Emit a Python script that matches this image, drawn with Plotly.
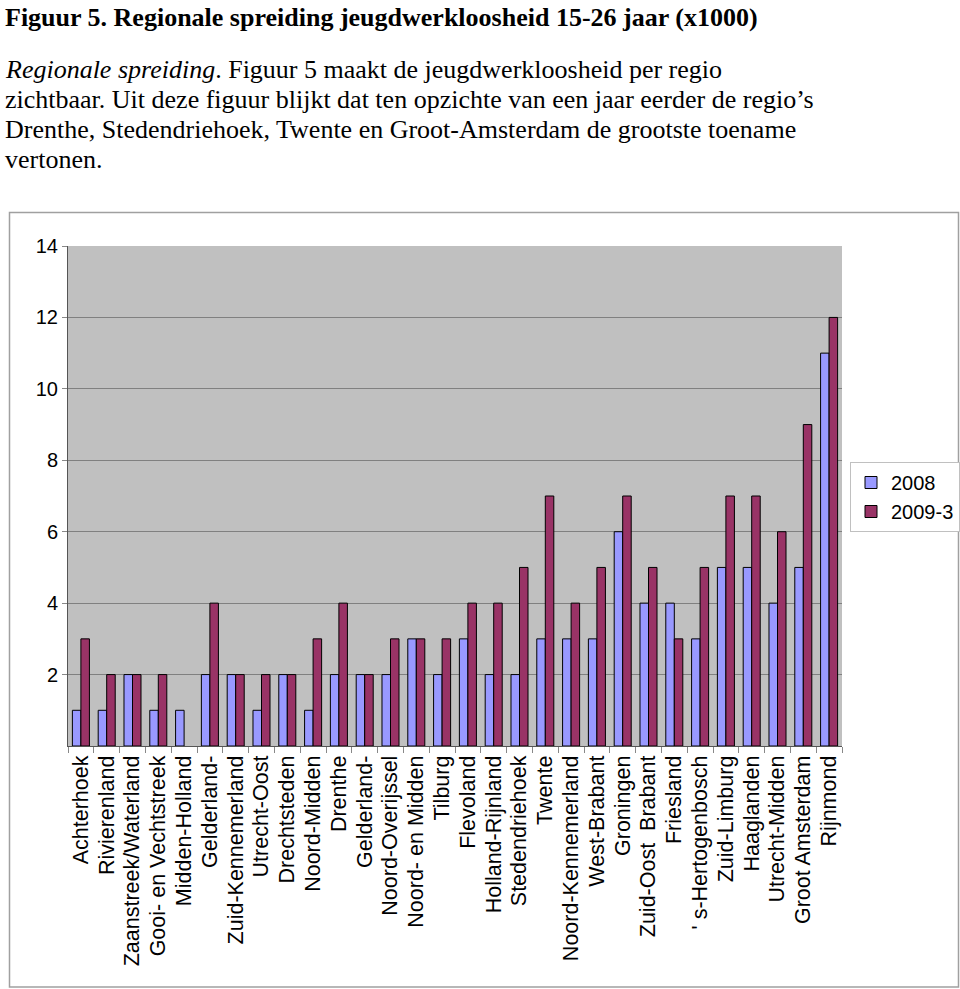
import plotly.graph_objects as go

regions = ["Achterhoek", "Rivierenland", "Zaanstreek/Waterland", "Gooi- en Vechtstreek",
           "Midden-Holland", "Gelderland-", "Zuid-Kennemerland", "Utrecht-Oost",
           "Drechtsteden", "Noord-Midden", "Drenthe", "Gelderland-", "Noord-Overijssel",
           "Noord- en Midden", "Tilburg", "Flevoland", "Holland-Rijnland", "Stedendriehoek",
           "Twente", "Noord-Kennemerland", "West-Brabant", "Groningen", "Zuid-Oost  Brabant",
           "Friesland", "' s-Hertogenbosch", "Zuid-Limburg", "Haaglanden", "Utrecht-Midden",
           "Groot Amsterdam", "Rijnmond"]
v2008 = [1, 1, 2, 1, 1, 2, 2, 1, 2, 1, 2, 2, 2, 3, 2, 3, 2, 2, 3, 3, 3, 6, 4, 4, 3, 5, 5, 4, 5, 11]
v2009 = [3, 2, 2, 2, None, 4, 2, 2, 2, 3, 4, 2, 3, 3, 3, 4, 4, 5, 7, 4, 5, 7, 5, 3, 5, 7, 7, 6, 9, 12]
series_names = ["2008", "2009-3"]
y_ticks = [2, 4, 6, 8, 10, 12, 14]

W, H = 960, 989
L, R, T, B = 68, 842, 246, 746
PW, PH = R - L, B - T

def px(x):
    return (x - L) / PW

def py(y):
    return (B - y) / PH

xs = list(range(len(regions)))

fig = go.Figure()
fig.add_trace(go.Bar(x=xs, y=v2008, name=series_names[0],
                     marker=dict(color="#9999FF", line=dict(color="#000000", width=1))))
fig.add_trace(go.Bar(x=xs, y=v2009, name=series_names[1],
                     marker=dict(color="#993366", line=dict(color="#000000", width=1))))

font_sans = "Liberation Sans"
font_serif = "Liberation Serif"

fig.update_layout(
    width=W, height=H,
    margin=dict(l=L, r=W - R, t=T, b=H - B, pad=0, autoexpand=False),
    paper_bgcolor="white",
    plot_bgcolor="#C0C0C0",
    barmode="group",
    bargap=0.34,
    bargroupgap=0,
    font=dict(family=font_sans, size=20, color="black"),
    showlegend=True,
    legend=dict(x=px(850), y=py(462), xanchor="left", yanchor="top",
                bordercolor="#C0C0C0", borderwidth=1, bgcolor="white",
                font=dict(family=font_sans, size=20), tracegroupgap=4,
                itemwidth=30),
    xaxis=dict(range=[-0.5, len(regions) - 0.5], tickmode="array", tickvals=xs,
               ticktext=regions, tickangle=-90, ticks="", showgrid=False,
               showline=True, linecolor="#555555", linewidth=1, automargin=False,
               tickfont=dict(family=font_sans, size=21.5),
               minor=dict(tick0=-0.5, dtick=1, ticks="outside", ticklen=6,
                          tickcolor="#888888", showgrid=False),
               fixedrange=True),
    yaxis=dict(range=[0, 14], tickmode="array", tickvals=y_ticks,
               ticks="outside", ticklen=5, tickcolor="#888888",
               showgrid=True, gridcolor="#808080", gridwidth=1,
               showline=True, linecolor="#555555", linewidth=1, automargin=False,
               zeroline=False, tickfont=dict(family=font_sans, size=20),
               fixedrange=True),
)

# chart frame
fig.add_shape(type="rect", xref="paper", yref="paper",
              x0=px(9.5), x1=px(958.5), y0=py(987), y1=py(212.5),
              line=dict(color="#A0A0A0", width=1.5), layer="below")

# title and paragraph
fig.add_annotation(xref="paper", yref="paper", x=px(3), y=py(1), xanchor="left", yanchor="top",
                   text="<b>Figuur 5. Regionale spreiding jeugdwerkloosheid 15-26 jaar (x1000)</b>",
                   showarrow=False, font=dict(family=font_serif, size=26, color="black"))
lines = [
    "<i>Regionale spreiding</i>. Figuur 5 maakt de jeugdwerkloosheid per regio",
    "zichtbaar. Uit deze figuur blijkt dat ten opzichte van een jaar eerder de regio’s",
    "Drenthe, Stedendriehoek, Twente en Groot-Amsterdam de grootste toename",
    "vertonen.",
]
tops = [53, 83, 113, 143]
for t, s in zip(tops, lines):
    fig.add_annotation(xref="paper", yref="paper", x=px(3), y=py(t), xanchor="left", yanchor="top",
                       text=s, showarrow=False,
                       font=dict(family=font_serif, size=26, color="black"))

fig.write_html("out.html", config={"displayModeBar": False},
               post_script="document.body.style.margin='0';document.body.style.overflow='hidden';")
